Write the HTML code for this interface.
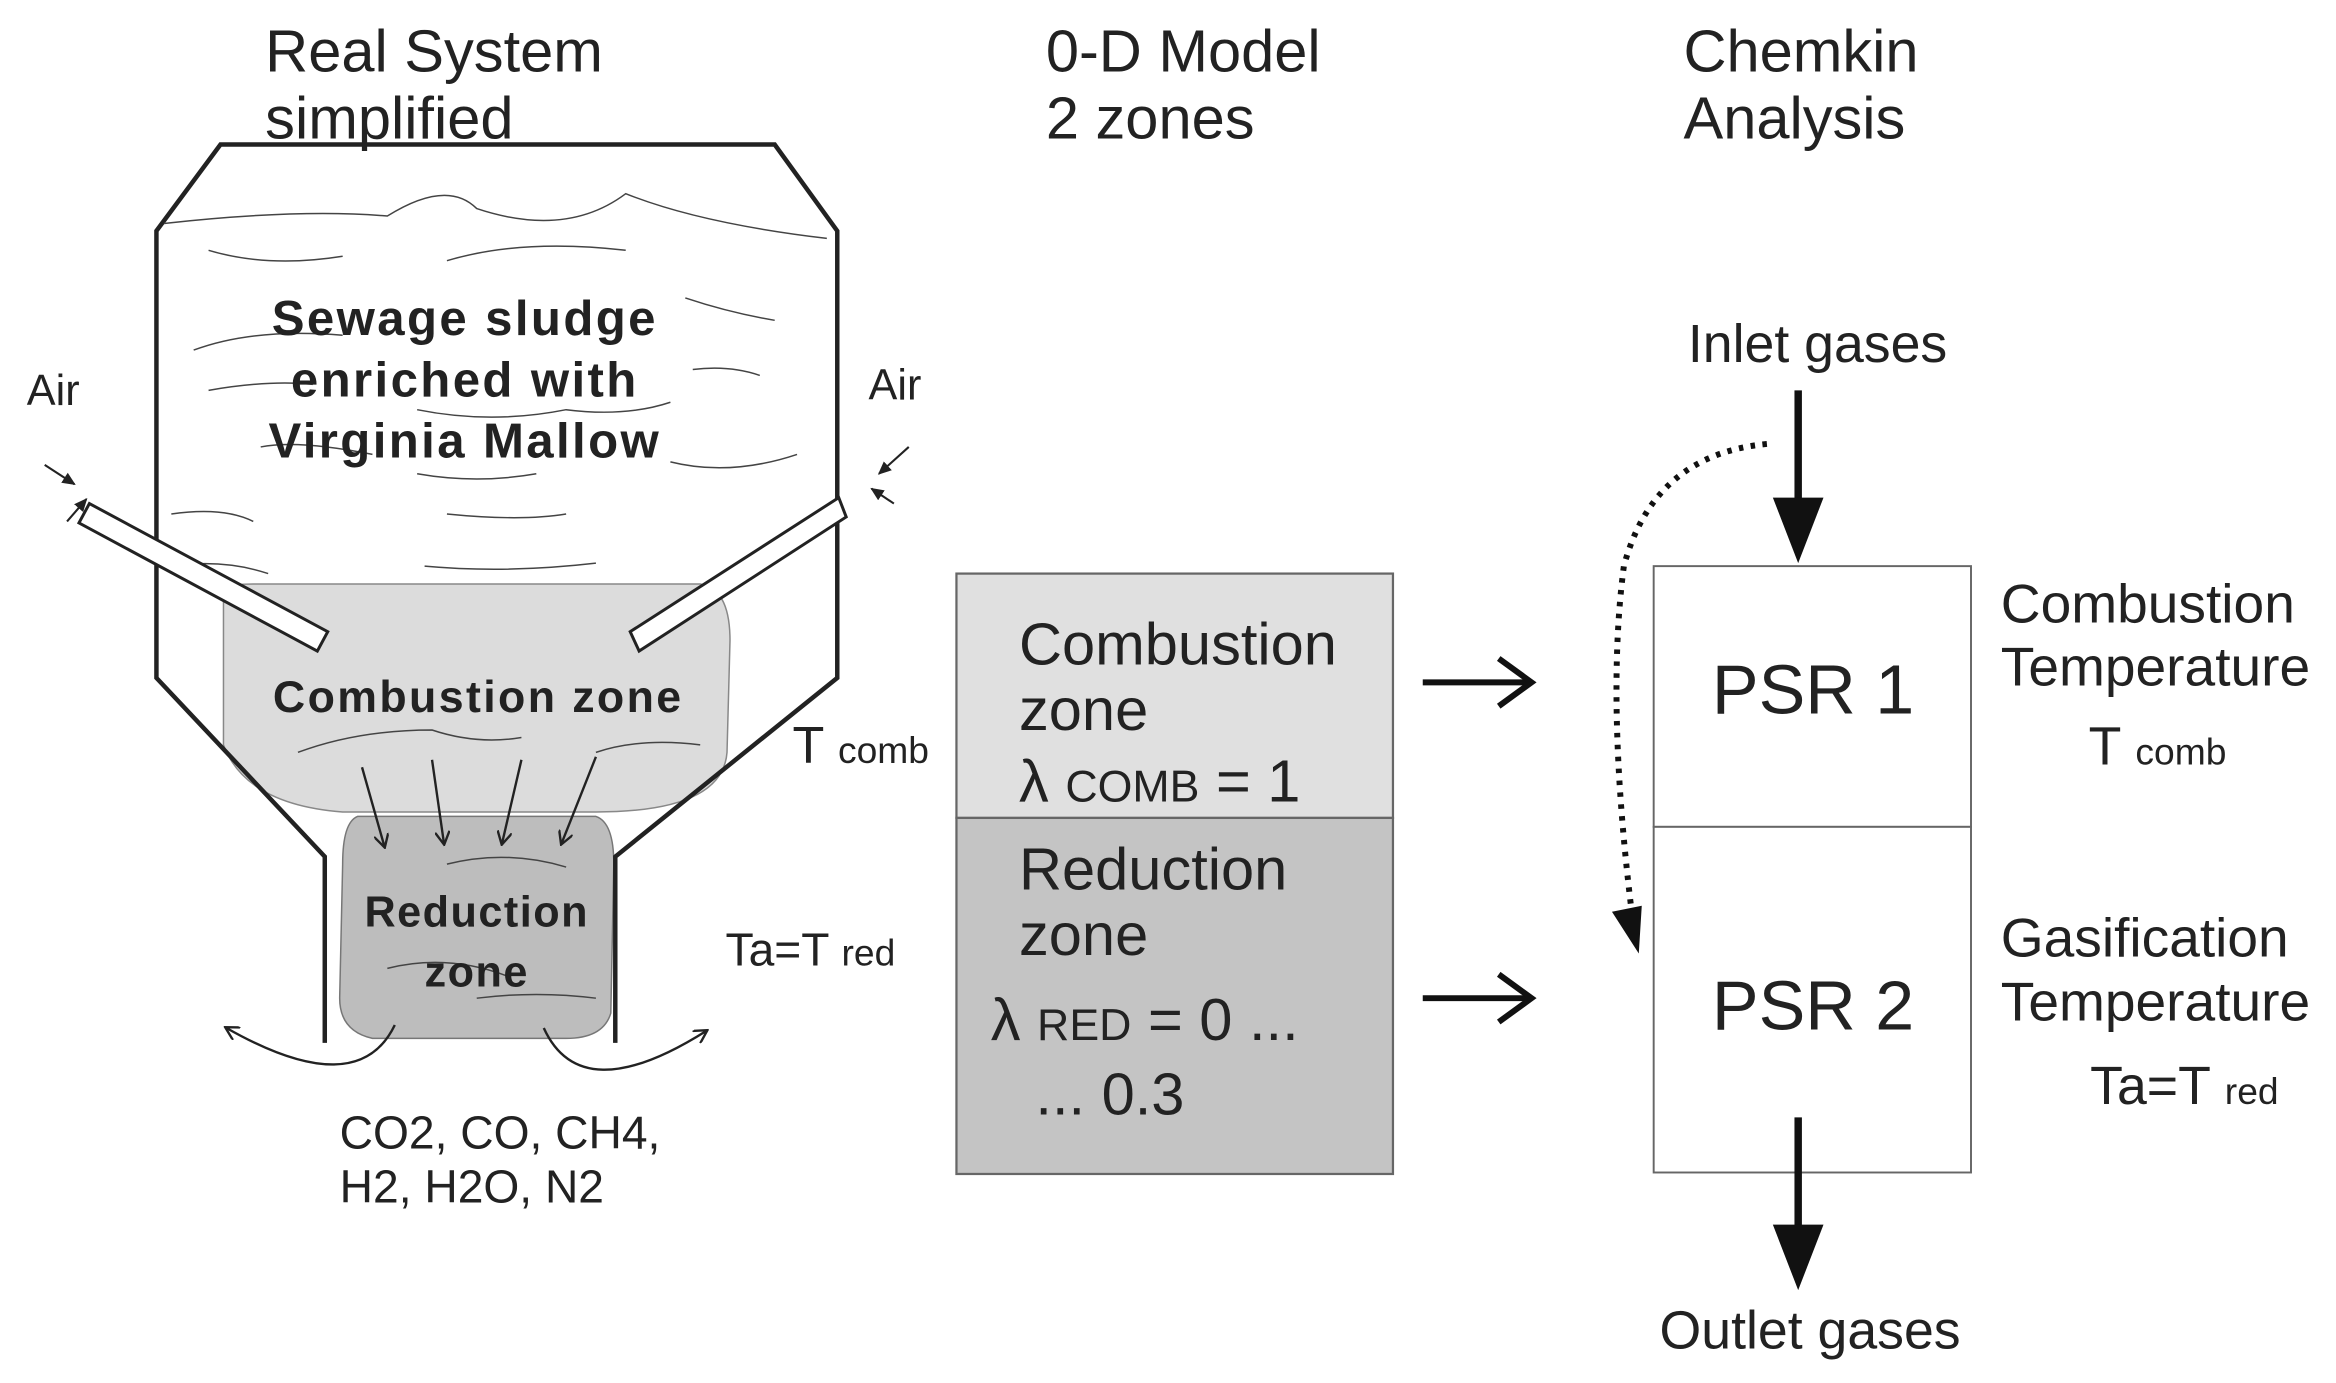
<!DOCTYPE html>
<html><head><meta charset="utf-8"><style>
html,body{margin:0;padding:0;background:#fff;}
svg{display:block;}
text{font-family:"Liberation Sans",Arial,sans-serif;fill:#222;}
.b{font-weight:bold;}
</style></head><body>
<svg width="2336" height="1383" viewBox="0 0 1568 928.3" preserveAspectRatio="none" xmlns="http://www.w3.org/2000/svg">
<defs>
<marker id="ah" markerWidth="10" markerHeight="10" refX="8" refY="5" orient="auto" markerUnits="userSpaceOnUse"><path d="M0,0 L9,5 L0,10" fill="none" stroke="#222" stroke-width="1.6"/></marker>
<marker id="sm" markerWidth="10" markerHeight="10" refX="8" refY="5" orient="auto" markerUnits="userSpaceOnUse"><path d="M0,1 L9,5 L0,9 Z" fill="#222"/></marker>
</defs>
<!-- headings -->
<text x="178" y="48" font-size="40">Real System</text>
<text x="178" y="93" font-size="40">simplified</text>
<text x="702" y="48" font-size="40">0-D Model</text>
<text x="702" y="93" font-size="40">2 zones</text>
<text x="1130" y="48" font-size="40">Chemkin</text>
<text x="1130" y="93" font-size="40">Analysis</text>

<!-- zones -->
<path d="M150,400 Q145,392 170,392 L470,392 Q490,395 490,430 L488,505 Q485,545 400,545 L230,545 Q165,540 150,500 Z" fill="#dcdcdc" stroke="#888" stroke-width="1"/>
<path d="M240,548 L400,548 Q412,552 412,580 L410,680 Q405,697 380,697 L250,697 Q228,692 228,670 L230,580 Q230,552 240,548 Z" fill="#bdbdbd" stroke="#777" stroke-width="1"/>

<!-- hopper -->
<polyline points="218,700 218,575 105,455 105,155 148,97 520,97 562,155 562,455 413,575 413,700" fill="none" stroke="#222" stroke-width="3"/>

<!-- squiggles -->
<g fill="none" stroke="#444" stroke-width="1">
<path d="M110,150 Q200,140 260,145 Q300,120 320,140 Q380,160 420,130 Q470,150 555,160"/>
<path d="M140,168 Q180,180 230,172"/><path d="M300,175 Q350,160 420,168"/>
<path d="M130,235 Q170,220 230,225"/><path d="M460,200 Q490,210 520,215"/>
<path d="M140,262 Q180,255 210,258"/><path d="M465,248 Q490,245 510,252"/>
<path d="M280,275 Q330,285 380,275 Q420,280 450,270"/>
<path d="M175,300 Q200,295 250,305"/><path d="M450,310 Q490,320 535,305"/>
<path d="M280,318 Q320,325 360,318"/>
<path d="M115,345 Q150,340 170,350"/><path d="M300,345 Q350,350 380,345"/>
<path d="M115,380 Q150,375 180,385"/><path d="M285,380 Q340,385 400,378"/>
<path d="M200,505 Q240,490 290,490 Q320,500 350,495"/><path d="M400,505 Q430,495 470,500"/>
<path d="M300,580 Q340,570 380,582"/><path d="M260,650 Q300,640 340,655"/><path d="M320,670 Q360,665 400,670"/>
</g>

<!-- air tubes -->
<polygon points="60,338 220,424 213,437 53,351" fill="#fff" stroke="#222" stroke-width="2"/>
<polygon points="563,334 568,347 429,437 423,424" fill="#fff" stroke="#222" stroke-width="2"/>

<!-- small air arrows -->
<g stroke="#222" stroke-width="1.4" fill="none">
<line x1="30" y1="312" x2="50" y2="325" marker-end="url(#sm)"/><line x1="45" y1="350" x2="58" y2="335" marker-end="url(#sm)"/>
<line x1="610" y1="300" x2="590" y2="318" marker-end="url(#sm)"/><line x1="600" y1="338" x2="585" y2="328" marker-end="url(#sm)"/>
</g>
<text x="18" y="272" font-size="29">Air</text>
<text x="583" y="268" font-size="29">Air</text>

<text x="312" y="225" font-size="33" letter-spacing="1.6" text-anchor="middle" class="b">Sewage sludge</text>
<text x="312" y="266" font-size="33" letter-spacing="1.6" text-anchor="middle" class="b">enriched with</text>
<text x="312" y="307" font-size="33" letter-spacing="1.6" text-anchor="middle" class="b">Virginia Mallow</text>
<text x="321" y="478" font-size="30" letter-spacing="1.6" text-anchor="middle" class="b">Combustion zone</text>
<text x="320" y="622" font-size="29" letter-spacing="1" text-anchor="middle" class="b">Reduction</text>
<text x="320" y="662" font-size="29" letter-spacing="1" text-anchor="middle" class="b">zone</text>

<!-- arrows down -->
<g stroke="#222" stroke-width="1.6" fill="none">
<line x1="243" y1="515" x2="258" y2="568" marker-end="url(#ah)"/>
<line x1="290" y1="510" x2="298" y2="566" marker-end="url(#ah)"/>
<line x1="350" y1="510" x2="337" y2="566" marker-end="url(#ah)"/>
<line x1="400" y1="508" x2="377" y2="566" marker-end="url(#ah)"/>
<path d="M265,688 Q240,740 152,690" marker-end="url(#ah)"/>
<path d="M365,690 Q390,745 474,692" marker-end="url(#ah)"/>
</g>
<text x="228" y="771" font-size="31">CO2, CO, CH4,</text>
<text x="228" y="807" font-size="31">H2, H2O, N2</text>

<text x="532" y="512" font-size="35">T <tspan font-size="25">comb</tspan></text>
<text x="487" y="648" font-size="31">Ta=T <tspan font-size="25">red</tspan></text>

<!-- middle box -->
<rect x="642" y="385" width="293" height="164" fill="#e0e0e0" stroke="#666" stroke-width="1.5"/>
<rect x="642" y="549" width="293" height="239" fill="#c4c4c4" stroke="#666" stroke-width="1.5"/>
<text x="684" y="446" font-size="40">Combustion</text>
<text x="684" y="490" font-size="40">zone</text>
<text x="684" y="538" font-size="40">λ <tspan font-size="30">COMB</tspan> = 1</text>
<text x="684" y="597" font-size="40">Reduction</text>
<text x="684" y="641" font-size="40">zone</text>
<text x="665" y="698" font-size="40">λ <tspan font-size="30">RED</tspan> = 0 ...</text>
<text x="695" y="748" font-size="40">... 0.3</text>

<!-- horizontal arrows -->
<g stroke="#111" stroke-width="4" fill="none">
<line x1="955" y1="458" x2="1028" y2="458"/><path d="M1006,442 L1028,458 L1006,474"/>
<line x1="955" y1="670" x2="1028" y2="670"/><path d="M1006,654 L1028,670 L1006,686"/>
</g>

<!-- PSR -->
<rect x="1110" y="380" width="213" height="175" fill="#fff" stroke="#666" stroke-width="1.3"/>
<rect x="1110" y="555" width="213" height="232" fill="#fff" stroke="#666" stroke-width="1.3"/>
<text x="1217" y="479" font-size="47" text-anchor="middle">PSR 1</text>
<text x="1217" y="691" font-size="47" text-anchor="middle">PSR 2</text>

<text x="1220" y="243" font-size="36" text-anchor="middle">Inlet gases</text>
<line x1="1207" y1="262" x2="1207" y2="340" stroke="#111" stroke-width="5"/>
<polygon points="1190,334 1224,334 1207,378" fill="#111"/>
<line x1="1207" y1="750" x2="1207" y2="826" stroke="#111" stroke-width="5"/>
<polygon points="1190,822 1224,822 1207,866" fill="#111"/>
<text x="1215" y="905" font-size="36" text-anchor="middle">Outlet gases</text>

<path d="M1186,298 Q1110,305 1090,380 Q1078,470 1095,610" fill="none" stroke="#111" stroke-width="4" stroke-dasharray="3,5"/>
<polygon points="1082,612 1102,608 1100,640" fill="#111"/>

<text x="1343" y="418" font-size="37">Combustion</text>
<text x="1343" y="460" font-size="37">Temperature</text>
<text x="1402" y="513" font-size="36">T <tspan font-size="25">comb</tspan></text>
<text x="1343" y="642" font-size="37">Gasification</text>
<text x="1343" y="685" font-size="37">Temperature</text>
<text x="1403" y="741" font-size="36">Ta=T <tspan font-size="25">red</tspan></text>
</svg>
</body></html>
